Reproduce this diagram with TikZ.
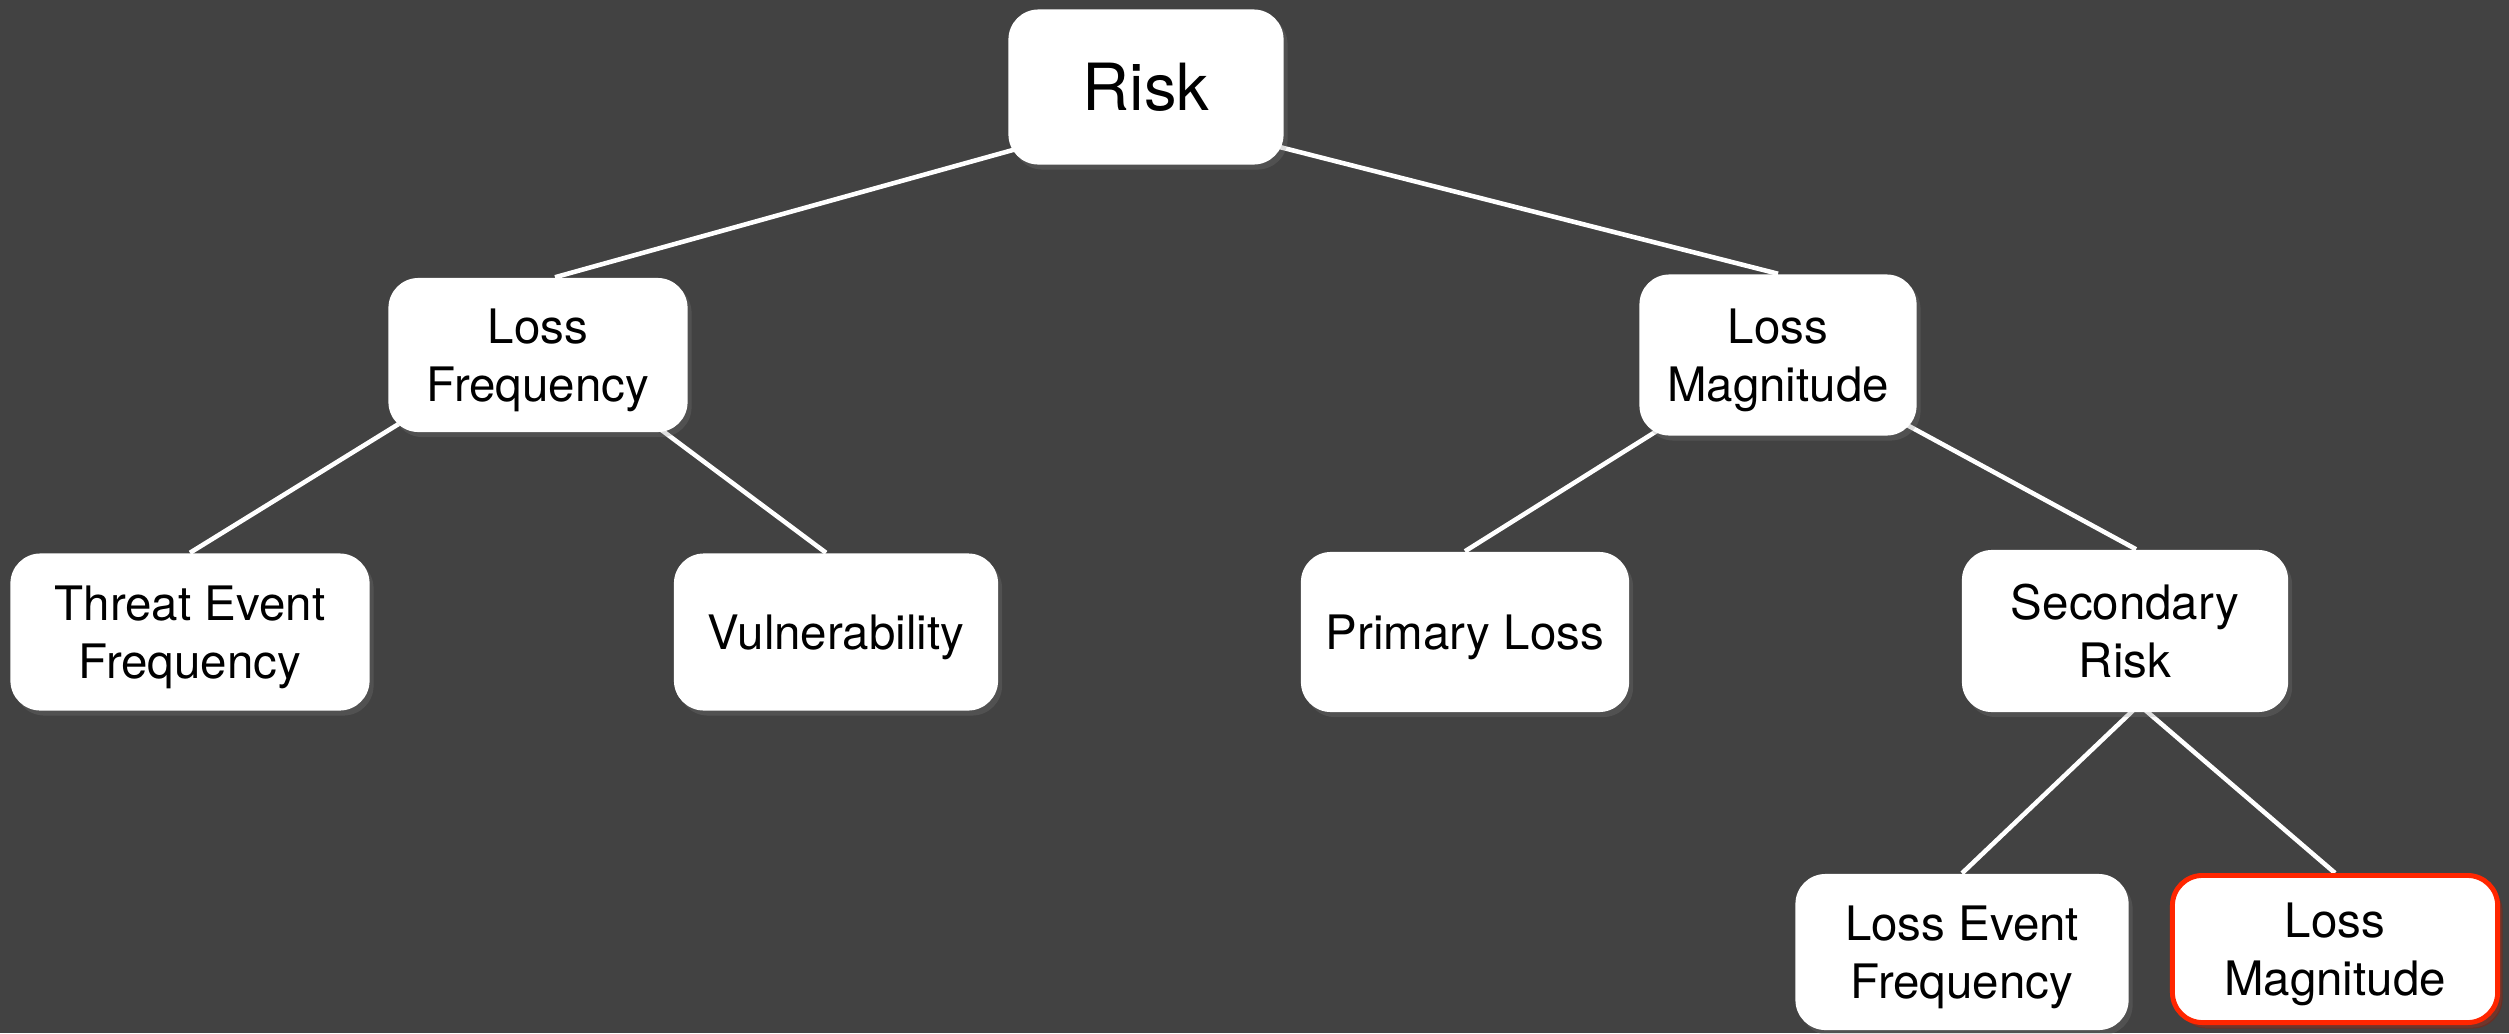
\documentclass[tikz,border=0pt]{standalone}
\usepackage{fontspec}
\setmainfont{TeX Gyre Heros}
\usetikzlibrary{shadows}
\definecolor{slate}{RGB}{66,66,66}
\definecolor{alertred}{RGB}{255,38,0}
\pgfdeclarelayer{back}
\pgfdeclarelayer{edges}
\pgfsetlayers{back,edges,main}
\tikzset{
  box/.style={fill=white, rounded corners=0.3cm, align=center, inner sep=0pt,
    text depth=0pt, font=\fontsize{13.5}{16.5}\selectfont,
    drop shadow={opacity=0.25, shadow xshift=0.04cm, shadow yshift=-0.05cm}},
  link/.style={draw=white, line width=1.3pt},
}
\begin{document}
\begin{tikzpicture}[x=0.01cm,y=-0.01cm]
\useasboundingbox (0,0) rectangle (2509,1033);
\begin{pgfonlayer}{back}
\fill[slate] (0,0) rectangle (2509,1033);
\end{pgfonlayer}
% top of the tree
\node[box,minimum width=2.75cm,minimum height=1.55cm,font=\fontsize{18.5}{22}\selectfont] (risk) at (1146,87) {Risk};
\node[box,minimum width=2.99cm,minimum height=1.54cm] (lf) at (538,355) {Loss\\Frequency};
\node[box,minimum width=2.77cm,minimum height=1.61cm] (lm) at (1778,355) {Loss\\Magnitude};
% second level
\node[box,minimum width=3.59cm,minimum height=1.57cm] (tef) at (190,632) {Threat Event\\Frequency};
\node[box,minimum width=3.24cm,minimum height=1.57cm] (vuln) at (836,632) {Vulnerability};
\node[box,minimum width=3.28cm,minimum height=1.60cm] (ploss) at (1465,632) {Primary Loss};
\node[box,minimum width=3.26cm,minimum height=1.62cm] (srisk) at (2125,631) {Secondary\\Risk};
% third level
\node[box,minimum width=3.33cm,minimum height=1.56cm] (lef) at (1962,952) {Loss Event\\Frequency};
\node[box,draw=alertred,line width=1.4pt,minimum width=3.25cm,minimum height=1.47cm,
  drop shadow={opacity=0.45, fill=alertred!60!black, shadow xshift=0.05cm, shadow yshift=-0.06cm}] (lm2) at (2335,949) {Loss\\Magnitude};
\begin{pgfonlayer}{edges}
\draw[link] ([yshift=-0.26cm]risk.center) -- ([xshift=0.17cm]lf.north);
\draw[link] ([yshift=-0.26cm]risk.center) -- (lm.north);
\draw[link] ([yshift=0.17cm]lf.center) -- (tef.north);
\draw[link] ([yshift=0.17cm]lf.center) -- ([xshift=-0.1cm]vuln.north);
\draw[link] (lm.center) -- (ploss.north);
\draw[link] (lm.center) -- ([xshift=0.11cm]srisk.north);
\draw[link] ([xshift=0.14cm,yshift=0.08cm]srisk.south) -- (lef.north);
\draw[link] ([xshift=0.14cm,yshift=0.08cm]srisk.south) -- (lm2.north);
\end{pgfonlayer}
\end{tikzpicture}
\end{document}
